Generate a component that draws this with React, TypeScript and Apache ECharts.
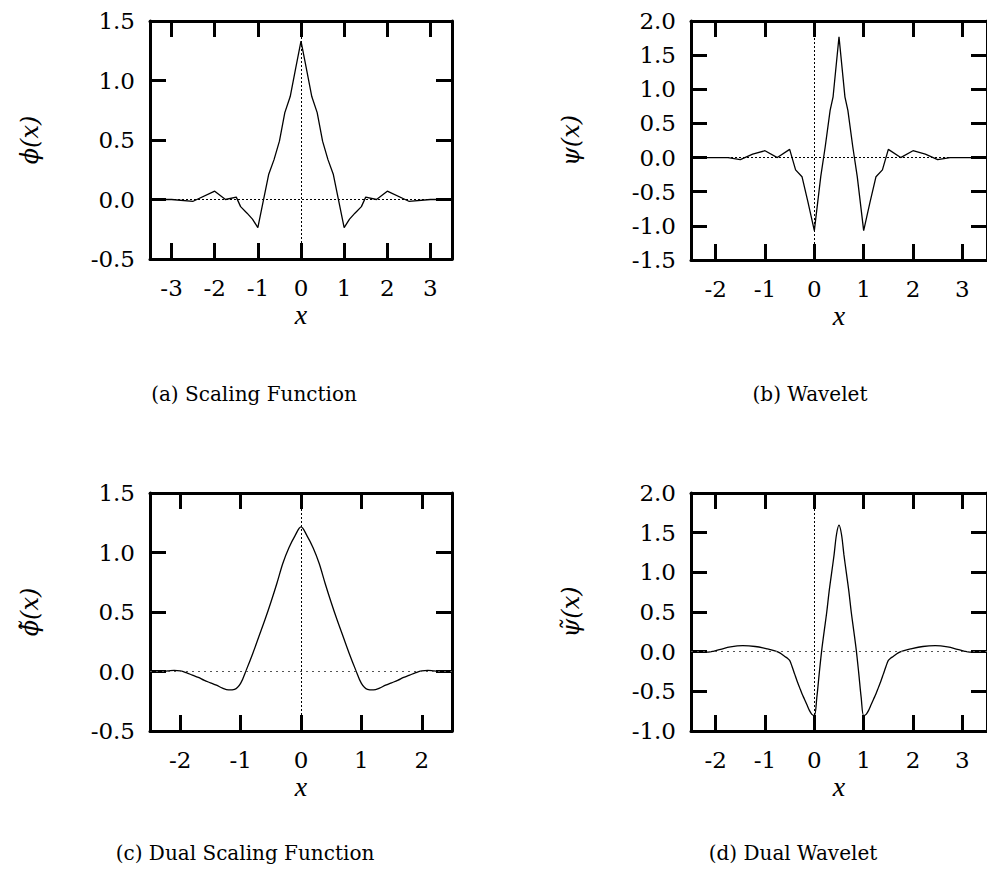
import React, { useEffect, useRef } from "react";
import * as echarts from "echarts";

// (a) scaling function φ(x)
const phiX = [-3.5, -3, -2.5, -2, -1.75, -1.5, -1.4, -1.25, -1.125, -1, -0.75, -0.625, -0.5, -0.375, -0.25, -0.125, 0, 0.125, 0.25, 0.375, 0.5, 0.625, 0.75, 1, 1.125, 1.25, 1.4, 1.5, 1.75, 2, 2.5, 3, 3.5];
const phiY = [0, 0, -0.015, 0.07, 0, 0.02, -0.06, -0.115, -0.165, -0.237, 0.21, 0.335, 0.49, 0.73, 0.865, 1.1, 1.33, 1.1, 0.865, 0.73, 0.49, 0.335, 0.21, -0.237, -0.165, -0.115, -0.06, 0.02, 0, 0.07, -0.015, 0, 0];

// (b) wavelet ψ(x)
const psiX = [-2.5, -2, -1.75, -1.5, -1.25, -1, -0.75, -0.5, -0.38, -0.25, -0.13, 0, 0.13, 0.22, 0.32, 0.38, 0.5, 0.62, 0.68, 0.78, 0.87, 1, 1.13, 1.25, 1.38, 1.5, 1.75, 2, 2.25, 2.5, 2.75, 3, 3.5];
const psiY = [0, 0, 0, -0.03, 0.05, 0.1, 0, 0.12, -0.18, -0.28, -0.65, -1.07, -0.28, 0.155, 0.69, 0.89, 1.77, 0.89, 0.69, 0.155, -0.28, -1.07, -0.65, -0.28, -0.18, 0.12, 0, 0.1, 0.05, -0.03, 0, 0, 0];

// (c) dual scaling function
const dualPhiX = [-2.5, -2.3, -2.2, -2.1, -2, -1.9, -1.8, -1.7, -1.6, -1.5, -1.4, -1.3, -1.2, -1.1, -1, -0.9, -0.8, -0.7, -0.6, -0.5, -0.4, -0.3, -0.2, -0.1, 0, 0.1, 0.2, 0.3, 0.4, 0.5, 0.6, 0.7, 0.8, 0.9, 1, 1.1, 1.2, 1.3, 1.4, 1.5, 1.6, 1.7, 1.8, 1.9, 2, 2.1, 2.2, 2.3, 2.5];
const dualPhiY = [0, 0, 0.005, 0.01, 0.005, -0.01, -0.03, -0.05, -0.075, -0.095, -0.115, -0.14, -0.155, -0.15, -0.1, 0.02, 0.15, 0.29, 0.43, 0.58, 0.74, 0.91, 1.04, 1.14, 1.215, 1.14, 1.04, 0.91, 0.74, 0.58, 0.43, 0.29, 0.15, 0.02, -0.1, -0.15, -0.155, -0.14, -0.115, -0.095, -0.075, -0.05, -0.03, -0.01, 0.005, 0.01, 0.005, 0, 0];

// (d) dual wavelet
const dualPsiX = [-2.5, -2.3, -2.15, -2.05, -1.9, -1.7, -1.45, -1.2, -0.95, -0.8, -0.7, -0.6, -0.55, -0.5, -0.45, -0.4, -0.35, -0.3, -0.25, -0.2, -0.15, -0.1, -0.05, 0, 0.05, 0.1, 0.15, 0.2, 0.25, 0.3, 0.35, 0.4, 0.45, 0.5, 0.55, 0.6, 0.65, 0.7, 0.75, 0.8, 0.85, 0.9, 0.95, 1, 1.05, 1.1, 1.15, 1.2, 1.25, 1.3, 1.35, 1.4, 1.45, 1.5, 1.55, 1.6, 1.7, 1.8, 1.95, 2.2, 2.45, 2.7, 2.9, 3.05, 3.15, 3.3, 3.5];
const dualPsiY = [0, 0, -0.005, 0.005, 0.03, 0.06, 0.075, 0.065, 0.035, 0.01, -0.015, -0.06, -0.08, -0.11, -0.19, -0.28, -0.37, -0.45, -0.53, -0.6, -0.67, -0.74, -0.79, -0.806, -0.58, -0.27, 0.02, 0.26, 0.49, 0.76, 0.99, 1.22, 1.48, 1.595, 1.48, 1.22, 0.99, 0.76, 0.49, 0.26, 0.02, -0.27, -0.58, -0.806, -0.79, -0.74, -0.67, -0.6, -0.53, -0.45, -0.37, -0.28, -0.19, -0.11, -0.08, -0.06, -0.015, 0.01, 0.035, 0.065, 0.075, 0.06, 0.03, 0.005, -0.005, 0, 0];

// tick values per panel
const xTicksA = [-3, -2, -1, 0, 1, 2, 3];
const xTicksB = [-2, -1, 0, 1, 2, 3];
const xTicksC = [-2, -1, 0, 1, 2];
const xTicksD = [-2, -1, 0, 1, 2, 3];
const yTicksA = [-0.5, 0, 0.5, 1, 1.5];
const yTicksB = [-1.5, -1, -0.5, 0, 0.5, 1, 1.5, 2];
const yTicksC = [-0.5, 0, 0.5, 1, 1.5];
const yTicksD = [-1, -0.5, 0, 0.5, 1, 1.5, 2];

const captions = ["(a) Scaling Function", "(b) Wavelet", "(c) Dual Scaling Function", "(d) Dual Wavelet"];
const yNames = ["ϕ(x)", "ψ(x)", "ϕ̃(x)", "ψ̃(x)"];

const panels = [
  { xs: phiX, ys: phiY, xMin: -3.5, xMax: 3.5, xTicks: xTicksA, yTicks: yTicksA, smooth: false as number | boolean },
  { xs: psiX, ys: psiY, xMin: -2.5, xMax: 3.5, xTicks: xTicksB, yTicks: yTicksB, smooth: false as number | boolean },
  { xs: dualPhiX, ys: dualPhiY, xMin: -2.5, xMax: 2.5, xTicks: xTicksC, yTicks: yTicksC, smooth: 0.35 as number | boolean },
  { xs: dualPsiX, ys: dualPsiY, xMin: -2.5, xMax: 3.5, xTicks: xTicksD, yTicks: yTicksD, smooth: 0.35 as number | boolean },
];

// plot frames and caption anchors
const frames = [
  { left: 150, top: 21, width: 302, height: 238 },
  { left: 691, top: 21, width: 300, height: 239 },
  { left: 150, top: 493, width: 302, height: 238 },
  { left: 691, top: 493, width: 300, height: 238 },
];
const captionPos = [
  [254, 394],
  [810, 394],
  [245, 853],
  [793, 853],
];

const FONT = "'DejaVu Serif', 'Liberation Serif', serif";
const X_FONT = "'Liberation Serif', 'DejaVu Serif', serif";

function buildOption() {
  const grid: any[] = [];
  const xAxis: any[] = [];
  const yAxis: any[] = [];
  const series: any[] = [];
  const graphic: any[] = [];

  const frameLine = () => ({ show: true, onZero: false, lineStyle: { color: "#000", width: 3 } });
  const ticks = (vals: number[]) => ({
    show: true,
    inside: true,
    length: 16,
    customValues: vals,
    lineStyle: { color: "#000", width: 3 },
  });

  panels.forEach((p, i) => {
    const f = frames[i];
    grid.push({ left: f.left, top: f.top, width: f.width, height: f.height });
    const yMin = p.yTicks[0];
    const yMax = p.yTicks[p.yTicks.length - 1];

    xAxis.push({
      type: "value",
      gridIndex: i,
      position: "bottom",
      min: p.xMin,
      max: p.xMax,
      axisLine: frameLine(),
      axisTick: ticks(p.xTicks),
      axisLabel: {
        customValues: p.xTicks,
        margin: 19,
        fontFamily: FONT,
        fontSize: 23,
        lineHeight: 20,
        color: "#000",
        formatter: (v: number) => String(v),
      },
      splitLine: { show: false },
      name: "x",
      nameLocation: "middle",
      nameGap: 31,
      nameTextStyle: { fontFamily: X_FONT, fontStyle: "italic", fontSize: 28, lineHeight: 28, color: "#000" },
    });
    xAxis.push({
      type: "value",
      gridIndex: i,
      position: "top",
      min: p.xMin,
      max: p.xMax,
      axisLine: frameLine(),
      axisTick: ticks(p.xTicks),
      axisLabel: { show: false },
      splitLine: { show: false },
    });
    yAxis.push({
      type: "value",
      gridIndex: i,
      position: "left",
      min: yMin,
      max: yMax,
      interval: 0.5,
      axisLine: frameLine(),
      axisTick: ticks(p.yTicks),
      axisLabel: {
        customValues: p.yTicks,
        margin: 15,
        fontFamily: FONT,
        fontSize: 23,
        lineHeight: 23,
        color: "#000",
        formatter: (v: number) => v.toFixed(1),
      },
      splitLine: { show: false },
      name: yNames[i],
      nameLocation: "middle",
      nameRotate: 90,
      nameGap: 108,
      nameTextStyle: { fontFamily: FONT, fontStyle: "italic", fontSize: 24, lineHeight: 24, color: "#000" },
    });
    yAxis.push({
      type: "value",
      gridIndex: i,
      position: "right",
      min: yMin,
      max: yMax,
      interval: 0.5,
      axisLine: frameLine(),
      axisTick: ticks(p.yTicks),
      axisLabel: { show: false },
      splitLine: { show: false },
    });

    const smoothPanel = p.smooth !== false;
    series.push({
      type: "line",
      xAxisIndex: 2 * i,
      yAxisIndex: 2 * i,
      data: p.xs.map((x, k) => [x, p.ys[k]]),
      symbol: "none",
      smooth: p.smooth,
      lineStyle: { color: "#000", width: 1.3 },
      markLine: {
        silent: true,
        symbol: "none",
        label: { show: false },
        data: [
          {
            yAxis: 0,
            lineStyle: smoothPanel
              ? { type: [2, 4], color: "#555", width: 1.2 }
              : { type: [2, 2], color: "#000", width: 1 },
          },
          { xAxis: 0, lineStyle: { type: [2, 2], color: "#000", width: 1 } },
        ],
      },
    });

    graphic.push({
      type: "text",
      x: captionPos[i][0],
      y: captionPos[i][1],
      style: {
        text: captions[i],
        fontFamily: FONT,
        fontSize: 20,
        fill: "#000",
        textAlign: "center",
        textVerticalAlign: "middle",
      },
    });
  });

  return {
    animation: false,
    backgroundColor: "#fff",
    grid,
    xAxis,
    yAxis,
    series,
    graphic,
  };
}

export default function App() {
  const ref = useRef<HTMLDivElement>(null);
  useEffect(() => {
    if (!ref.current) return;
    const chart = echarts.init(ref.current, undefined, { renderer: "svg" });
    chart.setOption(buildOption() as any);
    return () => chart.dispose();
  }, []);
  return (
    <div
      ref={ref}
      style={{ position: "absolute", left: 0, top: 0, width: 987, height: 884 }}
    />
  );
}
